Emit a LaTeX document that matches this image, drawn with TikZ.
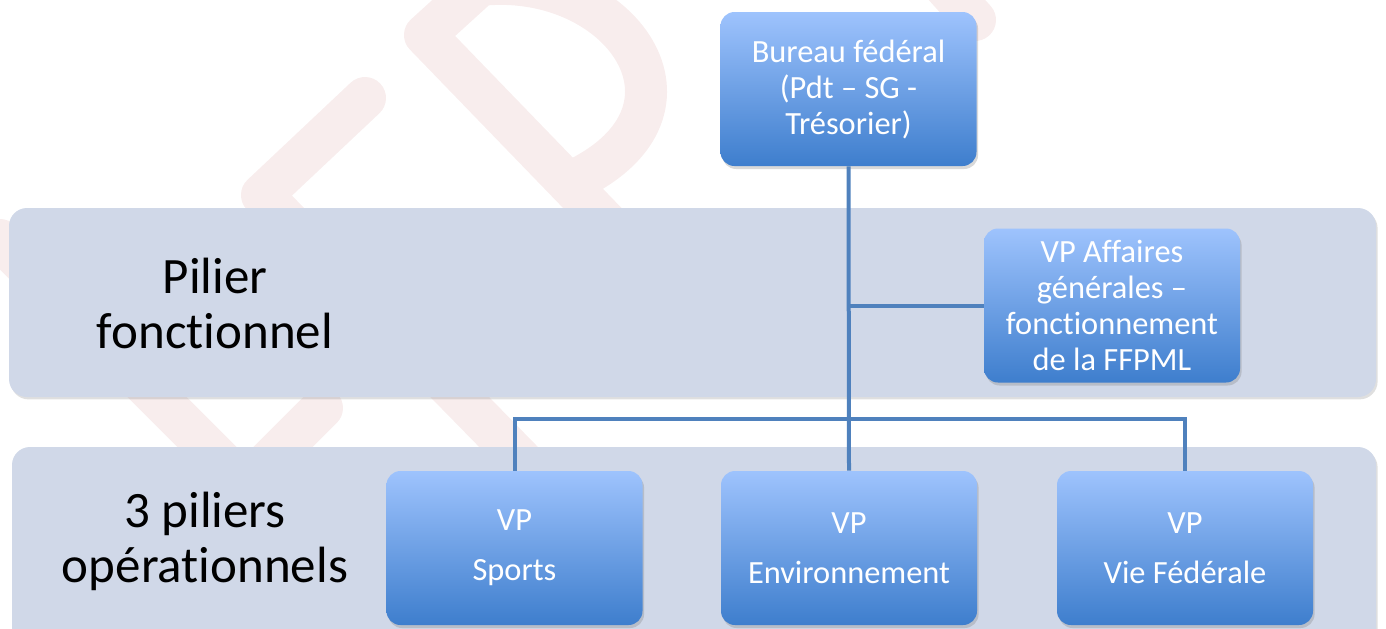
\documentclass[tikz,border=0pt]{standalone}
\usepackage{fontspec}
\setmainfont{Carlito}[Ligatures=NoCommon]
\usetikzlibrary{shadows}
\definecolor{bandgray}{RGB}{208,216,232}
\definecolor{linkblue}{RGB}{79,129,189}
\definecolor{boxtop}{RGB}{158,195,253}
\definecolor{boxbot}{RGB}{62,126,205}
\definecolor{wmpink}{RGB}{248,237,237}
\tikzset{
	band/.style={fill=bandgray, rounded corners=9pt, drop shadow={shadow xshift=0.8pt, shadow yshift=-1.2pt, opacity=0.25}},
	box/.style={rounded corners=7pt, top color=boxtop, bottom color=boxbot, minimum width=128pt, minimum height=77pt, align=center, text=white, font=\fontsize{16.2}{18}\selectfont, drop shadow={shadow xshift=0.8pt, shadow yshift=-1.5pt, opacity=0.3}},
	link/.style={draw=linkblue, line width=2pt},
	wm/.style={draw=wmpink, line width=21pt, line cap=round, line join=round},
	pillar/.style={align=center, font=\fontsize{25.5}{27.5}\selectfont}
}

\begin{document}
\begin{tikzpicture}[x=0.5pt, y=-0.5pt]
		%%%%% START %%%%%
		\useasboundingbox (0, 0) rectangle (1386, 628);
		
		% watermark
		\draw[wm] (365, 98) -- (262, 195) -- (580, 520);
		\draw[wm] (0, 240) -- (250, 490);
		\draw[wm] (250, 480) -- (322, 408);
		\draw[wm] (575, 180) .. controls (720, 110) and (620, -30) .. (480, -15) -- (425, 35) -- (720, 340);
		\draw[wm] (930, -30) -- (975, 20);
		
		% bands
		\fill[band] (9, 208) rectangle (1376, 397);
		\fill[band] (12, 447) rectangle (1376, 680);
		
		\node[pillar] (fonct) at (215, 303) {Pilier\\fonctionnel};
		\node[pillar] (operat) at (205, 541) {3 piliers\\opérationnels};
		
		% boxes
		\node[box] (bureau) at (848.5, 89) {Bureau fédéral\\(Pdt – SG -\\Trésorier)};
		\node[box] (affaires) at (1112, 305.5) {VP Affaires\\générales –\\fonctionnement\\de la FFPML};
		\node[box] (sports) at (514.5, 548) {VP\\[7pt]Sports};
		\node[box] (env) at (849, 548) {VP\\[7pt]Environnement};
		\node[box] (vie) at (1185, 548) {VP\\[7pt]Vie Fédérale};
		
		% links
		\coordinate (fork) at (849, 419);
		\draw[link] (bureau.south) -- (env.north);
		\draw[link] (affaires.west) -- (affaires.west -| bureau.south);
		\draw[link] (sports.north) |- (fork) -| (vie.north);
		
		%%%%% END %%%%%
	\end{tikzpicture}
\end{document}
